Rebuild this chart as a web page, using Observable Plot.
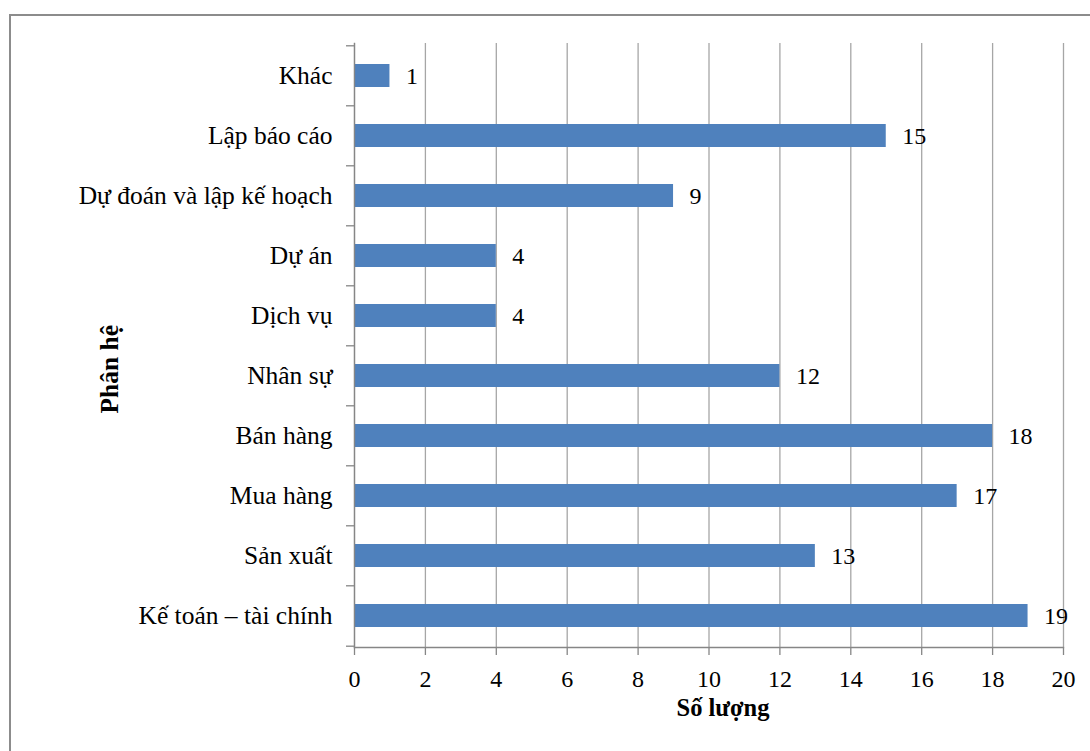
<!DOCTYPE html>
<html>
<head>
<meta charset="utf-8">
<script src="https://cdn.jsdelivr.net/npm/d3@7"></script>
<script src="https://cdn.jsdelivr.net/npm/@observablehq/plot@0.6"></script>
<style>
  html, body { margin: 0; padding: 0; background: #fff; overflow: hidden; }
  #wrap { position: relative; width: 1090px; height: 751px; overflow: hidden; }
  #frame { position: absolute; left: 9px; top: 14px; width: 1200px; height: 900px;
           border: 2px solid #8c8c8c; box-sizing: border-box; }
  #chart { position: absolute; left: 0; top: 0; }
</style>
</head>
<body>
<div id="wrap">
  <div id="frame"></div>
  <div id="chart"></div>
</div>
<script>
const categories = ["Khác", "Lập báo cáo", "Dự đoán và lập kế hoạch", "Dự án", "Dịch vụ",
                    "Nhân sự", "Bán hàng", "Mua hàng", "Sản xuất", "Kế toán – tài chính"];
const values = [1, 15, 9, 4, 4, 12, 18, 17, 13, 19];
const xTicks = [0, 2, 4, 6, 8, 10, 12, 14, 16, 18, 20];
const xTitle = "Số lượng";
const yTitle = "Phân hệ";

const data = categories.map((c, i) => ({category: c, value: values[i]}));

const W = 1090, H = 751;
const mL = 354, mT = 43, mR = 27, mB = 104;
const step = (H - mT - mB) / categories.length;
const axisColor = "#868686";
const gridColor = "#a6a6a6";
const FS = 24;
const FSY = 25.5;

const chart = Plot.plot({
  width: W,
  height: H,
  marginLeft: mL,
  marginTop: mT,
  marginRight: mR,
  marginBottom: mB,
  style: {fontSize: FS + "px", color: "#000", background: "transparent",
          fontFamily: "'Liberation Serif', 'Times New Roman', serif"},
  x: {domain: [0, 20], ticks: xTicks},
  y: {domain: categories, paddingInner: 0.625, paddingOuter: 0.3125},
  marks: [
    Plot.gridX(xTicks, {stroke: gridColor, strokeOpacity: 1, strokeWidth: 1.3}),
    Plot.barX(data, {y: "category", x: "value", fill: "#4f81bd"}),
    Plot.text(data, {y: "category", x: "value", text: d => String(d.value),
                     textAnchor: "start", dx: 16, fontSize: FS, fill: "#000"}),
    Plot.frame({anchor: "left", stroke: axisColor, strokeWidth: 1.3}),
    Plot.frame({anchor: "bottom", stroke: axisColor, strokeWidth: 1.3}),
    Plot.axisX({ticks: xTicks, tickSize: 8, tickPadding: 14, stroke: axisColor,
                strokeWidth: 1.3, label: null, fontSize: FS}),
    Plot.axisY({tickSize: 0, tickPadding: 22, label: null, fontSize: FSY}),
    Plot.axisY({tickSize: 8, tickFormat: () => "", label: null, dy: -step / 2,
                stroke: axisColor, strokeWidth: 1.3}),
    Plot.axisY({ticks: [categories[categories.length - 1]], tickSize: 8, tickFormat: () => "",
                label: null, dy: step / 2, stroke: axisColor, strokeWidth: 1.3}),
    Plot.text([xTitle], {frameAnchor: "bottom", text: d => d, dx: 14, dy: 68,
                         fontWeight: "bold", fontSize: 24.5, fill: "#000"}),
    Plot.text([yTitle], {frameAnchor: "left", text: d => d, rotate: -90, dx: -245, dy: 68,
                         fontWeight: "bold", fontSize: 25.5, fill: "#000"})
  ]
});
document.getElementById("chart").appendChild(chart);
</script>
</body>
</html>
